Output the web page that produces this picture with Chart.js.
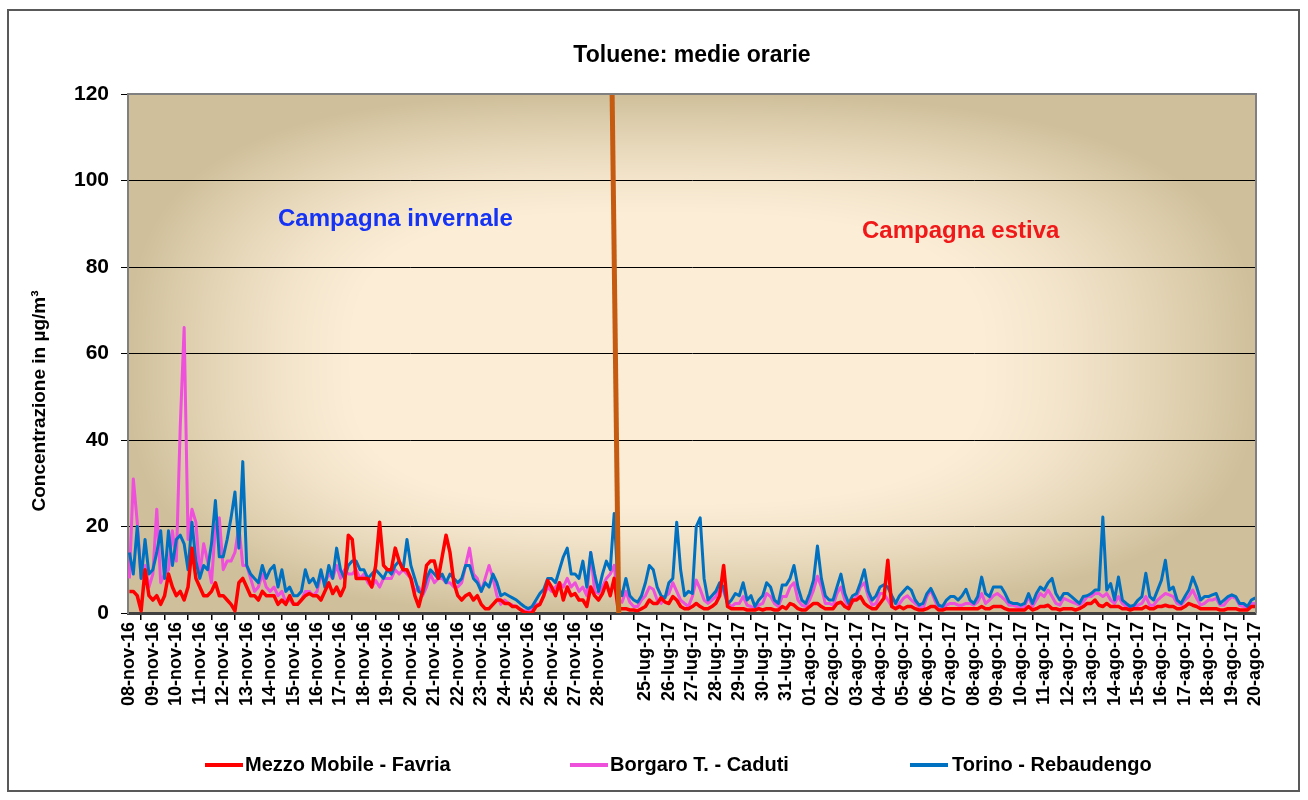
<!DOCTYPE html>
<html><head><meta charset="utf-8">
<script src="https://cdn.jsdelivr.net/npm/chart.js@4.4.1/dist/chart.umd.min.js"></script>
<style>html,body{margin:0;padding:0;background:#fff}#wrap{width:1308px;height:800px;position:relative}</style>
</head><body><div id="wrap"><canvas id="c" width="1308" height="800"></canvas></div>
<script>
const dayLabels = ['08-nov-16','09-nov-16','10-nov-16','11-nov-16','12-nov-16','13-nov-16','14-nov-16','15-nov-16','16-nov-16','17-nov-16','18-nov-16','19-nov-16','20-nov-16','21-nov-16','22-nov-16','23-nov-16','24-nov-16','25-nov-16','26-nov-16','27-nov-16','28-nov-16','',
'25-lug-17','26-lug-17','27-lug-17','28-lug-17','29-lug-17','30-lug-17','31-lug-17','01-ago-17','02-ago-17','03-ago-17','04-ago-17','05-ago-17','06-ago-17','07-ago-17','08-ago-17','09-ago-17','10-ago-17','11-ago-17','12-ago-17','13-ago-17','14-ago-17','15-ago-17','16-ago-17','17-ago-17','18-ago-17','19-ago-17','20-ago-17'];
const seriesNames = ['Mezzo Mobile - Favria','Borgaro T. - Caduti','Torino - Rebaudengo'];
const yTicks = [0,20,40,60,80,100,120];
const pointsPerDay = 6;
const summerStartSlot = 125;

const winterFavria = [
5,5,4,0.5,10,4, 3,4,2,4,9,6, 4,5,3,6,15,8, 6,4,4,5,7,4, 4,3,2,0.5,7,8,
6,4,4,3,5,4, 4,4,2,3,2,4, 2,2,3,4,4.5,4, 4,3,5,7,4.5,6, 4,6,18,17,8,8,
8,8,6,11,21,11, 10,10,15,12,10,10, 8,4,1.5,5,11,12, 12,8,13,18,14,7, 4,3,4,4.5,3,4,
2,1,1,2,3,3, 2.2,2.2,1.5,1.5,0.8,0.2, 0,0,1.5,2,4,7.5, 6,4,7,3,6,4, 4.5,3,3,1.5,6,4,
3,4.5,7,4,8];
const winterBorgaro = [
8,31,21,8,11,6, 9,24,7,9,10,19, 12,43,66,17,24,21, 9,16,12,7,20,22, 10,12,12,14,20,11,
11,8,5,6,9,6, 5,6,4,5,2.5,3, 2,2,3,5,5,4, 5,9,7,9,8,11, 8,10,9,9,10,8,
9,7,6,7.5,6,8, 8,8,10,9,10,9, 8,5,6,4,6,9, 7,8,8,7,7,6, 6,7,11,15,9,8,
5,8,11,8,4,2, 3,2.2,1.8,1.5,0.8,0.5, 0.5,0.8,2,2,4,6, 5,6,7,6,8,6, 7,5,6,4,14,5,
4.5,6,8,9,11];
const winterTorino = [
14,9,20,8,17,9, 10,14,19,8,19,11, 17,18,16,10,21,12, 8,11,10,16,26,13, 13,17,22,28,15,35,
11,9,8,7,11,8, 10,11,6,10,5,6, 4,4,5,10,7,8, 6,10,6,11,8,15, 10,8,11,12,12,10,
10,8,9,10,9,8, 10,9,11,12,10,17, 11,8,5,4.5,8,10, 9,8,9,7,9,8, 7,8,11,11,8,7,
5,7,6,9,7,4, 4.5,4,3.5,3,2.2,1.5, 1,1.5,3,4.5,5.5,8, 8,7,10,13,15,9, 9,8,12,6,14,9,
5,9,12,10,23];

const summerFavria = [1,
1,1,0.7,0.7,0.5,1, 1.5,3,2.2,2.2,3.5,2.5, 2.2,3.8,3,1.5,1,1, 1.5,2.2,1.5,1,1,1.5, 2.2,4,11,1.5,1,1,
1,1,0.7,0.7,0.7,1, 0.7,1,1,0.7,0.7,1.5, 1,2.2,1.8,1,0.7,0.7, 1.5,2.2,2.2,1.5,1,1, 1,2.2,2.5,1.5,1,3,
3,3.8,2.2,1.5,1,1, 2.2,3.4,12.2,1.5,1,1.5, 1,1.5,1.5,1,0.7,0.7, 1,1.5,1.5,0.7,0.7,1, 1,1,1,1,1,1,
1,1,1.5,1,1,1.5, 1.5,1.5,1,0.7,0.7,0.7, 0.7,0.7,1.5,0.7,1,1.5, 1.5,1.8,1,1,0.7,1, 1,1,0.7,1,1.5,2.2,
2.2,3,1.8,1.5,2.2,1.5, 1.5,1.5,1,1,0.7,1, 1,1,1.5,1,1,1.5, 1.5,1.8,1.5,1.5,1,1, 1.5,2.2,1.8,1.5,1,1,
1,1,1,0.7,0.7,1, 1,1,0.7,0.7,0.7,1.5, 1.5];
const summerBorgaro = [3,
2.5,5,2.5,1.5,1.5,3, 4,6,5.5,3,2.2,3.8, 4.5,7,5,3,2.2,1.5, 3.8,7.6,5.5,3,2.2,3, 3.8,6,5,2.2,1.5,2.2,
2.2,3.8,1.8,1.5,1,1.8, 2.2,4.5,3.8,2.2,1.5,3.8, 3.8,6,7,3,1.8,1.5, 3,5.3,8.5,6,2.2,2.2, 1.8,4.5,6,3,1.5,2.5,
3.8,6,7,3.8,1.8,2.2, 4.5,4.5,3,1.5,1,2.2, 3.4,4,3,2.2,1.5,1, 3.8,5.3,3,1,1,1.8, 2.2,2.2,1.8,1.8,2.2,2.2,
1.8,2.6,4.5,2.2,3,4, 4.5,3.8,3,1.8,1.8,1.5, 1,1.5,3.8,1.5,3,4.5, 3.8,5.3,3.8,2.2,1.8,3.4, 3,2.6,2.2,1.8,2.6,3.8,
3.8,4.5,4.5,3.8,4.5,3, 2.2,3.8,2.2,1.5,1,1.5, 1.8,2.2,3.8,1.8,1.8,3, 3.8,4.5,4.2,3.8,2.2,1.8, 3,3.8,5.3,3.4,1.8,2.2,
3,3,3.4,1.8,1.8,3, 3.8,3.4,1.8,1.5,1,2.2, 2.2];
const summerTorino = [6,
4,8,4,3,2.5,4, 7,11,10,6,4,3.5, 7,8,21,10,4,5, 4.5,20,22,8,3,4, 5,7,6,2,3,4.5,
4,7,3,4,1.5,3, 4,7,6,3,2.2,6.5, 6.5,8,11,6,3,2.2, 4.5,7.6,15.5,8,4,3, 3,6,9,4.5,2.2,4,
4.5,7,10,5,3,4, 6,6.5,6,4,2.2,4, 5,6,5.3,3,1.8,2.2, 4.5,5.7,3.8,1.8,1.5,3, 3.8,3.8,3,4,5.5,3,
2.2,3.8,8.3,4.5,3.8,6, 6,6,4.5,2.6,2.2,2.2, 1.8,2.2,4.5,2.2,4.5,6, 5.3,7,8,4.5,3,4.5, 4.5,3.8,3,2.2,3.8,4,
4.5,5.3,5.3,22.2,5.3,6.8, 3,8.3,3,2.2,1.5,1.8, 3,3.8,9.2,3.8,3,5.3, 7.6,12.2,5.3,6,3,2.2, 3.8,5.3,8.3,6,3,3.8,
3.8,4.2,4.5,2.2,3,3.8, 4.2,3.8,2.2,2.2,1.5,3, 3.5];

const separatorDays = [20.58, 20.86];
const separatorValues = [120, 0];

function toPoints(values, startSlot) {
  return values.map((v, i) => ({ x: (startSlot + i) / pointsPerDay, y: v }));
}
function joinSeries(w, s) {
  return toPoints(w, 0).concat(toPoints(s, summerStartSlot));
}

const FONT = '"Liberation Sans", Arial, Helvetica, sans-serif';
Chart.defaults.font.family = FONT;

const colors = ['#FF0000', '#EE4FDB', '#0070C0'];

let bgCache = null;
function buildBackground(w, h) {
  const off = document.createElement('canvas');
  off.width = w; off.height = h;
  const octx = off.getContext('2d');
  const img = octx.createImageData(w, h);
  const light = [251, 237, 214], tan = [207, 191, 154];
  const cx = w * 0.45, cy = h * 0.52;
  for (let y = 0; y < h; y++) {
    const v = y < cy ? (cy - y) / cy : (y - cy) / (h - cy);
    for (let x = 0; x < w; x++) {
      const u = x < cx ? (cx - x) / cx : (x - cx) / (w - cx);
      const d = Math.pow(Math.pow(u, 3) + Math.pow(v, 3), 1 / 3);
      let f = (d - 0.55) / 0.45;
      f = f < 0 ? 0 : (f > 1 ? 1 : f);
      f = Math.pow(f, 1.4);
      const k = (y * w + x) * 4;
      img.data[k] = light[0] + (tan[0] - light[0]) * f;
      img.data[k + 1] = light[1] + (tan[1] - light[1]) * f;
      img.data[k + 2] = light[2] + (tan[2] - light[2]) * f;
      img.data[k + 3] = 255;
    }
  }
  octx.putImageData(img, 0, 0);
  return off;
}

const bgPlugin = {
  id: 'bg',
  beforeDraw(chart) {
    const { ctx, chartArea: a } = chart;
    const w = Math.round(a.right - a.left), h = Math.round(a.bottom - a.top);
    if (!bgCache || bgCache.width !== w || bgCache.height !== h) bgCache = buildBackground(w, h);
    ctx.drawImage(bgCache, a.left, a.top);
  },
  afterDraw(chart) {
    const { ctx, chartArea: a } = chart;
    ctx.save();
    ctx.strokeStyle = '#808080';
    ctx.lineWidth = 2;
    ctx.beginPath();
    ctx.moveTo(a.left, a.top); ctx.lineTo(a.right, a.top); ctx.lineTo(a.right, a.bottom);
    ctx.stroke();
    ctx.strokeStyle = '#595959';
    ctx.lineWidth = 2;
    ctx.strokeRect(8, 10, 1291, 781);
    ctx.fillStyle = '#000';
    ctx.textAlign = 'center';
    ctx.textBaseline = 'middle';
    ctx.font = 'bold 23px ' + FONT;
    ctx.fillText('Toluene: medie orarie', 692, 56);
    ctx.save();
    ctx.translate(40, 401);
    ctx.rotate(-Math.PI / 2);
    ctx.font = 'bold 19px ' + FONT;
    ctx.fillText('Concentrazione in \u00B5g/m\u00B3', 0, 0);
    ctx.restore();
    ctx.textAlign = 'left';
    ctx.font = 'bold 24px ' + FONT;
    ctx.fillStyle = '#1533F5';
    ctx.fillText('Campagna invernale', 278, 219);
    ctx.fillStyle = '#F01818';
    ctx.fillText('Campagna estiva', 862, 231);
    const legend = [[205, 245], [570, 610], [910, 952]];
    ctx.font = 'bold 20px ' + FONT;
    ctx.fillStyle = '#000';
    for (let i = 0; i < 3; i++) {
      const [lx, tx] = legend[i];
      ctx.strokeStyle = colors[i];
      ctx.lineWidth = 4;
      ctx.beginPath(); ctx.moveTo(lx, 765); ctx.lineTo(lx + 38, 765); ctx.stroke();
      ctx.fillText(seriesNames[i], tx, 765);
    }
    ctx.restore();
  }
};

new Chart(document.getElementById('c'), {
  type: 'line',
  data: {
    datasets: [
      { label: 'separator', data: separatorDays.map((d, i) => ({ x: d, y: separatorValues[i] })), borderColor: '#C55A11', borderWidth: 5, order: -1 },
      { label: seriesNames[0], data: joinSeries(winterFavria, summerFavria), borderColor: colors[0], borderWidth: 3.5, order: 0 },
      { label: seriesNames[1], data: joinSeries(winterBorgaro, summerBorgaro), borderColor: colors[1], borderWidth: 3, order: 2 },
      { label: seriesNames[2], data: joinSeries(winterTorino, summerTorino), borderColor: colors[2], borderWidth: 3, order: 1 }
    ]
  },
  options: {
    responsive: false,
    animation: false,
    devicePixelRatio: 1,
    elements: { point: { radius: 0 }, line: { tension: 0, borderJoinStyle: 'round' } },
    layout: { padding: { top: 94, right: 52, bottom: 87, left: 0 } },
    plugins: { legend: { display: false }, tooltip: { enabled: false }, title: { display: false } },
    scales: {
      x: {
        type: 'linear', min: -0.06, max: 48.03,
        afterBuildTicks: s => { s.ticks = dayLabels.map((l, i) => ({ value: i })); },
        afterFit: s => { s.height = 100; },
        ticks: { autoSkip: false, maxRotation: 90, minRotation: 90, padding: 2, color: '#000',
          font: { size: 18, weight: 'bold' },
          callback: (v) => dayLabels[Math.round(v)] ?? '' },
        grid: { drawOnChartArea: false, offset: true, tickLength: 7, tickColor: '#000', lineWidth: 1.5 },
        border: { display: true, color: '#404040', width: 3 }
      },
      y: {
        min: 0, max: 120,
        afterBuildTicks: s => { s.ticks = yTicks.map(v => ({ value: v })); },
        afterFit: s => { s.width = 128; },
        ticks: { padding: 12, color: '#000', font: { size: 21, weight: 'bold' } },
        grid: { color: c => (c.tick && c.tick.value > 0 && c.tick.value < 120) ? '#000' : 'rgba(0,0,0,0)',
          tickColor: '#000', tickLength: 7, lineWidth: 1 },
        border: { display: true, color: '#808080', width: 2 }
      }
    }
  },
  plugins: [bgPlugin]
});
</script>
</body></html>
